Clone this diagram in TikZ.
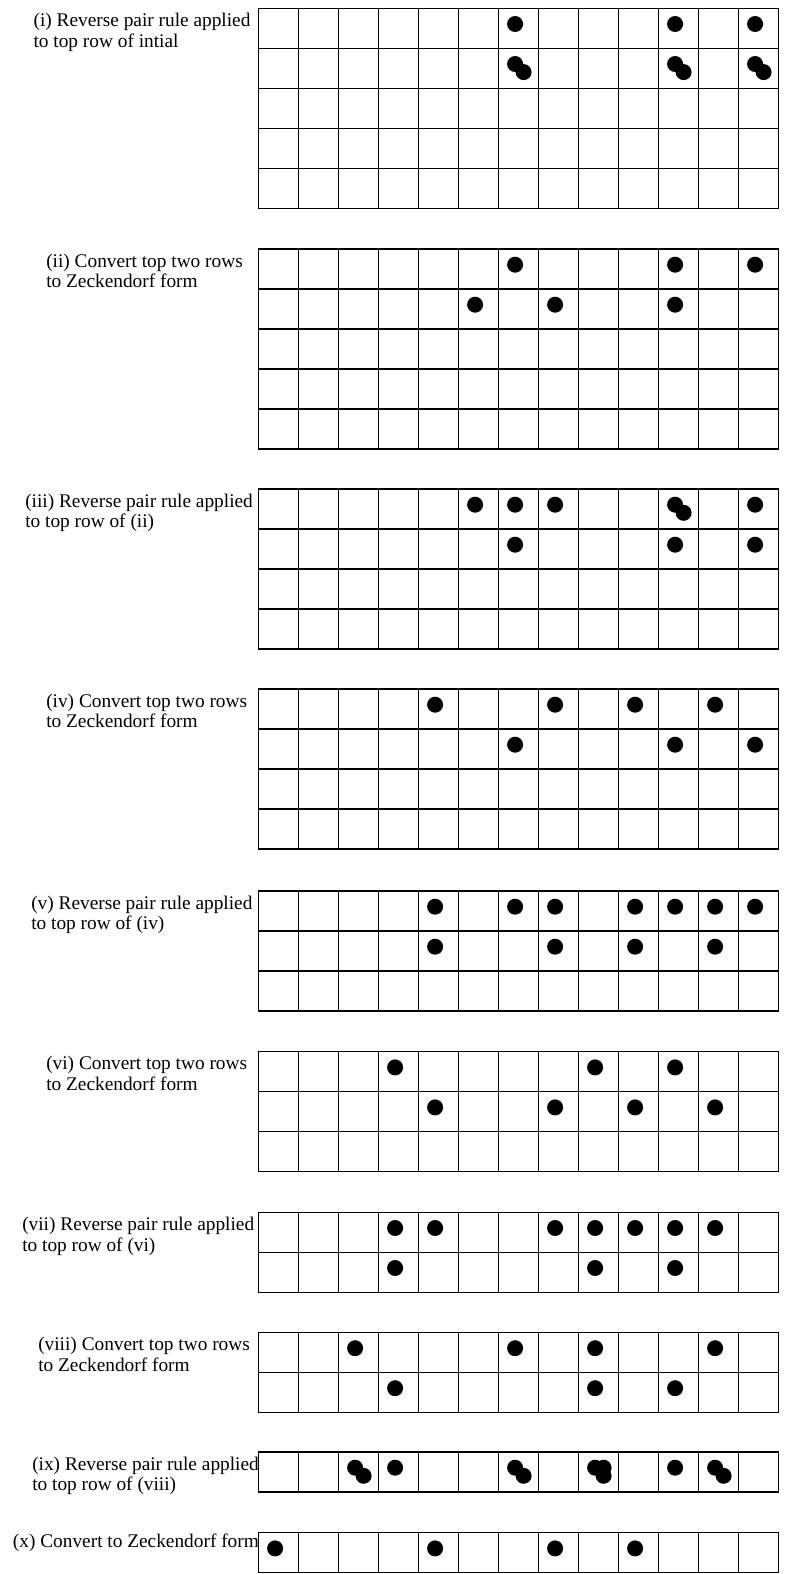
\documentclass[tikz,border=0pt]{standalone}
\usepackage{fontspec}
\setmainfont{Liberation Serif}
\usepackage{tikz}

\tikzset{
  cellline/.style={line width=0.9pt, line cap=rect},
  counter/.style={fill=black},
  steplabel/.style={anchor=base west, inner sep=0pt, align=left, font=\fontsize{14.5}{15.6}\selectfont}
}

% board of 13 columns, #1 = top edge, #2 = rows
\newcommand{\board}[2]{%
  \foreach \c in {0,...,13}
    \draw[cellline] ({258.3+40*\c},#1) -- ({258.3+40*\c},{#1+40*#2});
  \foreach \r in {0,...,#2}
    \draw[cellline] (258.3,{#1+40*\r}) -- (778.3,{#1+40*\r});
}
% counters: #1 = top edge of board, #2 = row, #3 = columns
\newcommand{\counters}[3]{%
  \foreach \c in {#3}
    \fill[counter] ({238.3+40*\c-3.2},{#1+40*#2-24.3}) circle[radius=8];
}
% second counter in a cell, lower right
\newcommand{\seconds}[3]{%
  \foreach \c in {#3}
    \fill[counter] ({238.3+40*\c+5.3},{#1+40*#2-16.2}) circle[radius=8];
}
% extra counter in a cell, right
\newcommand{\thirds}[3]{%
  \foreach \c in {#3}
    \fill[counter] ({238.3+40*\c+5.3},{#1+40*#2-24.3}) circle[radius=8];
}

\begin{document}
\begin{tikzpicture}[x=0.75pt,y=0.75pt,yscale=-1,xscale=1]
\useasboundingbox (0,0) rectangle (786,1574);

% (i)
\board{8.3}{5}
\counters{8.3}{1}{7,11,13}
\counters{8.3}{2}{7,11,13}
\seconds{8.3}{2}{7,11,13}
% base of the last line
\node[steplabel] (lbl1) at (33.3,47.1) {(i) Reverse pair rule applied\\to top row of intial};

% (ii)
\board{249}{5}
\counters{249}{1}{7,11,13}
\counters{249}{2}{6,8,11}
\node[steplabel] (lbl2) at (46,287.8) {(ii) Convert top two rows\\to Zeckendorf form};

% (iii)
\board{489}{4}
\counters{489}{1}{6,7,8,11,13}
\seconds{489}{1}{11}
\counters{489}{2}{7,11,13}
\node[steplabel] (lbl3) at (25,527.8) {(iii) Reverse pair rule applied\\to top row of (ii)};

% (iv)
\board{689}{4}
\counters{689}{1}{5,8,10,12}
\counters{689}{2}{7,11,13}
\node[steplabel] (lbl4) at (46,727.8) {(iv) Convert top two rows\\to Zeckendorf form};

% (v)
\board{891}{3}
\counters{891}{1}{5,7,8,10,11,12,13}
\counters{891}{2}{5,8,10,12}
\node[steplabel] (lbl5) at (31,929.8) {(v) Reverse pair rule applied\\to top row of (iv)};

% (vi)
\board{1051.7}{3}
\counters{1051.7}{1}{4,9,11}
\counters{1051.7}{2}{5,8,10,12}
\node[steplabel] (lbl6) at (46,1090.5) {(vi) Convert top two rows\\to Zeckendorf form};

% (vii)
\board{1212.3}{2}
\counters{1212.3}{1}{4,5,8,9,10,11,12}
\counters{1212.3}{2}{4,9,11}
\node[steplabel] (lbl7) at (22,1251.1) {(vii) Reverse pair rule applied\\to top row of (vi)};

% (viii)
\board{1332.5}{2}
\counters{1332.5}{1}{3,7,9,12}
\counters{1332.5}{2}{4,9,11}
\node[steplabel] (lbl8) at (38,1371.3) {(viii) Convert top two rows\\to Zeckendorf form};

% (ix)
\board{1452}{1}
\counters{1452}{1}{3,4,7,9,11,12}
\seconds{1452}{1}{3,7,9,12}
\thirds{1452}{1}{9}
\node[steplabel] (lbl9) at (32,1490.8) {(ix) Reverse pair rule applied\\to top row of (viii)};

% (x)
\board{1532.7}{1}
\counters{1532.7}{1}{1,5,8,10}
\node[steplabel] (lbl10) at (12.7,1547.7) {(x) Convert to Zeckendorf form};

\end{tikzpicture}
\end{document}
